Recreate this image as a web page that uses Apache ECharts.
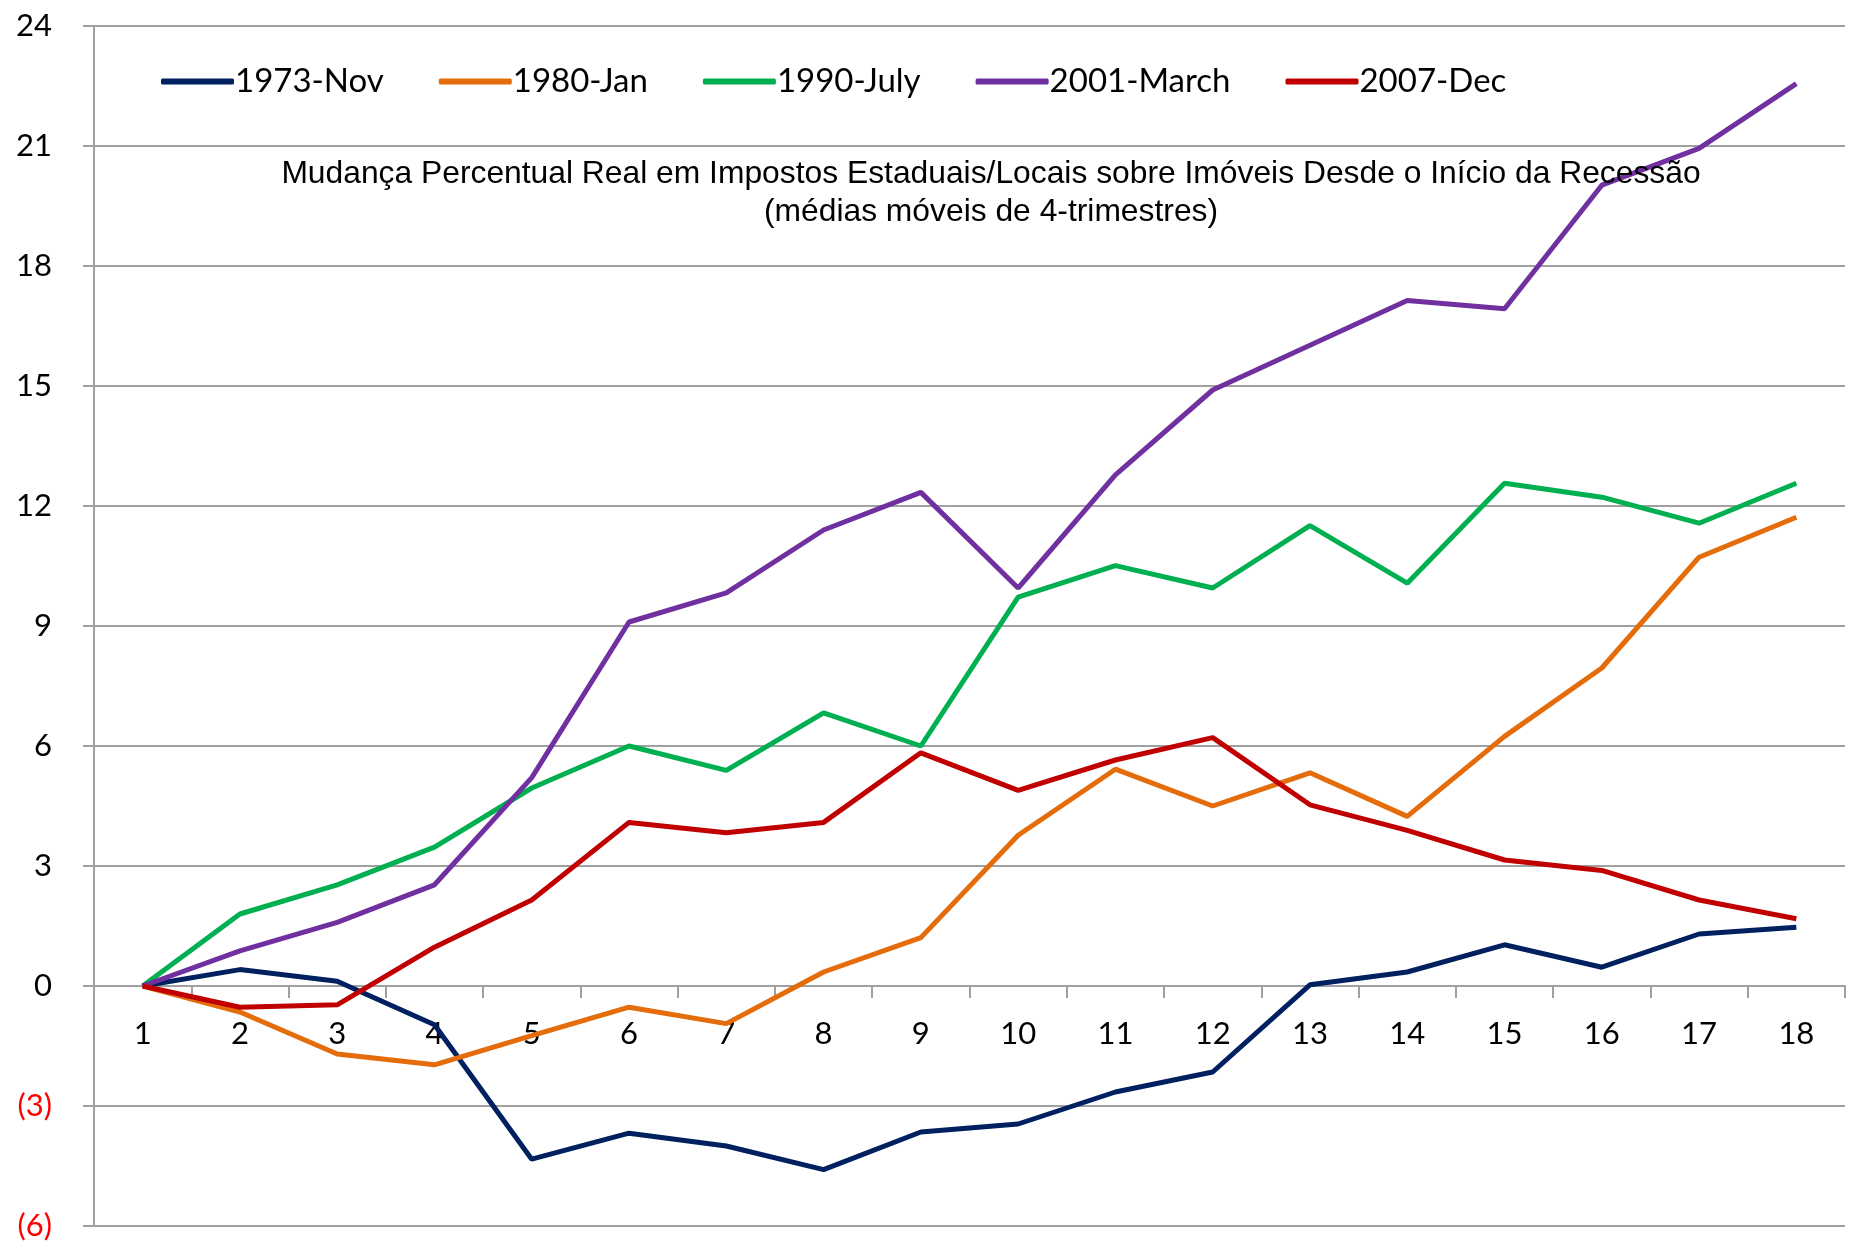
<!DOCTYPE html>
<html>
<head>
<meta charset="utf-8">
<script src="https://cdn.jsdelivr.net/npm/echarts@6/dist/echarts.min.js"></script>
<style>
  html, body { margin: 0; padding: 0; background: #fff; }
  #chart { width: 1851px; height: 1248px; }
</style>
</head>
<body>
<div id="chart"></div>
<script>
// trimestres desde o início da recessão
const quarters = ['1', '2', '3', '4', '5', '6', '7', '8', '9', '10', '11', '12', '13', '14', '15', '16', '17', '18'];

const nov1973 = [0, 0.41, 0.12, -0.97, -4.33, -3.68, -4.0, -4.59, -3.65, -3.45, -2.65, -2.15, 0.03, 0.35, 1.03, 0.47, 1.3, 1.47];
const jan1980 = [0, -0.65, -1.7, -1.97, -1.24, -0.53, -0.94, 0.35, 1.21, 3.77, 5.42, 4.5, 5.33, 4.24, 6.24, 7.95, 10.72, 11.72];
const july1990 = [0, 1.8, 2.53, 3.47, 4.95, 6.0, 5.39, 6.83, 6.0, 9.72, 10.51, 9.95, 11.51, 10.07, 12.57, 12.22, 11.57, 12.57];
const march2001 = [0, 0.88, 1.59, 2.53, 5.21, 9.1, 9.83, 11.4, 12.34, 9.95, 12.78, 14.9, 16.02, 17.14, 16.93, 20.02, 20.94, 22.56];
const dec2007 = [0, -0.53, -0.47, 0.97, 2.15, 4.09, 3.83, 4.09, 5.83, 4.89, 5.65, 6.21, 4.53, 3.89, 3.15, 2.89, 2.15, 1.68];

const names = ['1973-Nov', '1980-Jan', '1990-July', '2001-March', '2007-Dec'];
const colors = ['#002060', '#E46C0A', '#00B050', '#7030A0', '#C00000'];
const values = [nov1973, jan1980, july1990, march2001, dec2007];

const chart = echarts.init(document.getElementById('chart'));

const lineColor = '#a0a0a0';
const labelFont = 'Lato, "DejaVu Sans", sans-serif';

const option = {
  animation: false,
  backgroundColor: '#fff',
  title: {
    text: 'Mudança Percentual Real em Impostos Estaduais/Locais sobre Imóveis Desde o Início da Recessão\n(médias móveis de 4-trimestres)',
    left: 986,
    top: 150,
    textAlign: 'center',
    textStyle: {
      fontFamily: '"Liberation Sans", Arial, sans-serif',
      fontSize: 31.8,
      fontWeight: 'normal',
      color: '#000',
      lineHeight: 38,
      align: 'center'
    }
  },
  legend: {
    left: 156,
    top: 60,
    itemGap: 55,
    itemWidth: 73,
    itemHeight: 6,
    icon: 'roundRect',
    textStyle: {
      fontFamily: labelFont,
      fontSize: 33,
      color: '#000',
      padding: [0, 0, 0, -4]
    },
    data: names
  },
  grid: {
    left: 94,
    right: 6,
    top: 26,
    bottom: 22,
    outerBoundsMode: 'none',
    containLabel: false
  },
  xAxis: {
    type: 'category',
    data: quarters,
    boundaryGap: true,
    axisLine: { onZero: true, lineStyle: { color: lineColor, width: 2 } },
    axisTick: { show: true, length: 12, lineStyle: { color: lineColor, width: 2 } },
    axisLabel: {
      // labels sit just under the zero line
      inside: true,
      margin: 192,
      verticalAlign: 'middle',
      fontFamily: labelFont,
      fontSize: 31,
      color: '#000'
    },
    splitLine: { show: false }
  },
  yAxis: {
    type: 'value',
    min: -6,
    max: 24,
    interval: 3,
    axisLine: { show: true, lineStyle: { color: lineColor, width: 2 } },
    axisTick: { show: true, length: 11, lineStyle: { color: lineColor, width: 2 } },
    axisLabel: {
      margin: 42,
      fontFamily: labelFont,
      fontSize: 31,
      formatter: v => (v < 0 ? '(' + (-v) + ')' : String(v)),
      color: v => (Number(v) < 0 ? '#ff0000' : '#000')
    },
    splitLine: { show: true, lineStyle: { color: lineColor, width: 2 } }
  },
  series: names.map((name, i) => ({
    name: name,
    type: 'line',
    data: values[i],
    color: colors[i],
    symbol: 'none',
    lineStyle: { width: 5, color: colors[i] }
  }))
};

chart.setOption(option);
</script>
</body>
</html>
